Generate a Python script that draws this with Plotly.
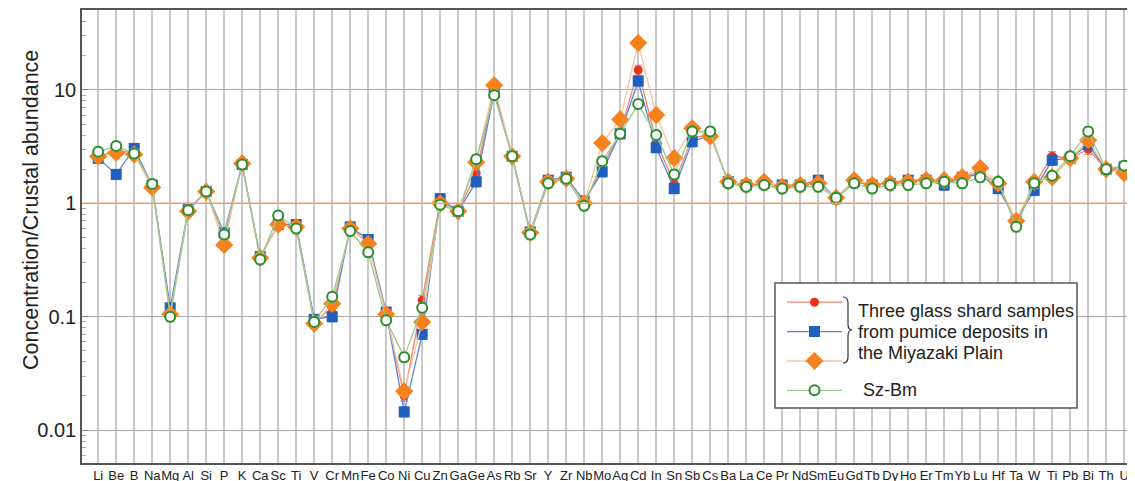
import plotly.graph_objects as go

elements = ["Li","Be","B","Na","Mg","Al","Si","P","K","Ca","Sc","Ti","V","Cr","Mn","Fe","Co","Ni","Cu","Zn",
            "Ga","Ge","As","Rb","Sr","Y","Zr","Nb","Mo","Ag","Cd","In","Sn","Sb","Cs","Ba","La","Ce","Pr","Nd",
            "Sm","Eu","Gd","Tb","Dy","Ho","Er","Tm","Yb","Lu","Hf","Ta","W","Ti","Pb","Bi","Th","U"]

sample_red = [2.6,2.9,2.8,1.45,0.11,0.87,1.27,0.5,2.2,0.33,0.65,0.63,0.09,0.12,0.6,0.45,0.105,0.02,0.14,1.05,
              0.85,1.85,10.5,2.6,0.55,1.55,1.65,1.0,2.1,4.2,15,3.5,1.5,3.8,4.0,1.55,1.45,1.5,1.4,1.45,
              1.5,1.12,1.6,1.45,1.5,1.55,1.6,1.55,1.7,1.9,1.45,0.7,1.45,2.6,2.5,3.0,2.0,1.95]
sample_blue = [2.5,1.8,3.05,1.45,0.12,0.88,1.27,0.55,2.2,0.34,0.65,0.65,0.095,0.1,0.62,0.48,0.11,0.0145,0.07,1.1,
               0.85,1.55,9.5,2.6,0.56,1.6,1.7,1.05,1.9,4.1,12,3.1,1.35,3.5,4.0,1.55,1.45,1.5,1.45,1.45,
               1.6,1.1,1.55,1.45,1.5,1.6,1.6,1.45,1.7,1.8,1.35,0.7,1.3,2.4,2.5,3.3,2.0,2.1]
sample_orange = [2.6,2.8,2.7,1.38,0.105,0.85,1.27,0.43,2.25,0.33,0.65,0.62,0.087,0.13,0.6,0.44,0.105,0.022,0.09,1.0,
                 0.85,2.3,11,2.6,0.55,1.55,1.65,1.0,3.4,5.5,26,6.0,2.5,4.6,3.9,1.55,1.45,1.55,1.4,1.45,
                 1.5,1.12,1.6,1.45,1.5,1.55,1.6,1.6,1.7,2.05,1.5,0.7,1.55,1.7,2.5,3.6,2.0,1.85]
sz_bm = [2.85,3.2,2.75,1.48,0.10,0.87,1.27,0.53,2.2,0.32,0.78,0.6,0.09,0.15,0.57,0.37,0.093,0.044,0.12,0.97,
         0.85,2.45,9.0,2.6,0.53,1.5,1.65,0.95,2.35,4.1,7.5,4.0,1.8,4.3,4.3,1.5,1.4,1.45,1.35,1.4,
         1.4,1.12,1.5,1.35,1.45,1.45,1.5,1.55,1.5,1.7,1.55,0.62,1.5,1.75,2.6,4.3,2.0,2.15]
err_pct = 10

OFF = 8  # page body margin
SW, SH = 1135, 481
W, H = SW - OFF, SH - OFF
# plot area in screenshot pixels
L, R, T, B = 82, 1135, 10, 463
def px(x): return (x - L) / (R - L)
def py(y): return (B - y) / (B - T)

xs = list(range(len(elements)))

fig = go.Figure()
series = [
    ("", sample_red, "#F2846E", dict(symbol="circle", size=9, color="#E5331F")),
    ("", sample_blue, "#5A86D0", dict(symbol="square", size=11, color="#1F5FBF")),
    ("", sample_orange, "#F9C49C", dict(symbol="diamond", size=14, color="#F5821F")),
    ("", sz_bm, "#9ACB8E", dict(symbol="circle", size=10, color="white", line=dict(color="#2E8B2E", width=2))),
]
for name, vals, lc, mk in series:
    fig.add_trace(go.Scatter(
        x=xs, y=vals, mode="lines+markers", name=name,
        line=dict(color=lc, width=1.3), marker=mk,
        error_y=dict(type="percent", value=err_pct, color=lc, thickness=1, width=4),
        showlegend=True,
    ))

fig.update_layout(
    width=W, height=H,
    margin=dict(l=L - OFF, r=SW - R, t=T - OFF, b=SH - B, autoexpand=False),
    paper_bgcolor="white", plot_bgcolor="white",
    font=dict(family="Liberation Sans, Arial", color="#222"),
    showlegend=True,
    legend=dict(x=px(782), y=py(282.5), xanchor="left", yanchor="top",
                bgcolor="rgba(0,0,0,0)", borderwidth=0, font=dict(size=20.3),
                itemwidth=55, tracegroupgap=0),
    xaxis=dict(range=[-0.9, 57.6], tickmode="array", tickvals=xs, ticktext=elements,
               showgrid=True, gridcolor="#C8C8C8", gridwidth=1.5, zeroline=False,
               showline=True, linecolor="#555", linewidth=1.5, mirror=True,
               ticks="", tickangle=0, automargin=False,
               tickfont=dict(size=13, color="#222")),
    yaxis=dict(type="log", range=[-2.29, 1.705], tickmode="array",
               tickvals=[0.01, 0.1, 1, 10], ticktext=["0.01", "0.1", "1", "10"],
               showgrid=True, gridcolor="#A8A8A8", gridwidth=1.3, zeroline=False,
               showline=True, linecolor="#555", linewidth=1.5, mirror=True,
               ticks="inside", ticklen=6, tickcolor="#888", automargin=False,
               minor=dict(ticks="inside", ticklen=4, tickcolor="#AAA", dtick="D1", showgrid=False),
               tickfont=dict(size=20, color="#222")),
)

fig.add_hline(y=1, line=dict(color="#F29A6A", width=1.5))

# legend box
fig.add_shape(type="rect", xref="paper", yref="paper",
              x0=px(775), x1=px(1077), y0=py(408), y1=py(283),
              line=dict(color="#555", width=1.5), fillcolor="white", layer="above")
# brace
brace = (f"M {px(843)},{py(297)} Q {px(848)},{py(297)} {px(848)},{py(303)} "
         f"L {px(848)},{py(324)} Q {px(848)},{py(330)} {px(852)},{py(330)} "
         f"Q {px(848)},{py(330)} {px(848)},{py(336)} L {px(848)},{py(357)} "
         f"Q {px(848)},{py(363)} {px(843)},{py(363)}")
fig.add_shape(type="path", xref="paper", yref="paper", path=brace,
              line=dict(color="#333", width=1.2), layer="above")

legend_lines = ["Three glass shard samples", "from pumice deposits in", "the Miyazaki Plain"]
for txt, yy in zip(legend_lines, [311, 332, 353]):
    fig.add_annotation(x=px(856), y=py(yy), xref="paper", yref="paper", text=txt,
                       showarrow=False, xanchor="left", yanchor="middle",
                       font=dict(size=18, color="#222"))
fig.add_annotation(x=px(861), y=py(390), xref="paper", yref="paper", text="Sz-Bm",
                   showarrow=False, xanchor="left", yanchor="middle",
                   font=dict(size=18, color="#222"))

fig.add_annotation(x=px(31), y=py(210), xref="paper", yref="paper",
                   text="Concentration/Crustal abundance", textangle=-90,
                   showarrow=False, xanchor="center", yanchor="middle",
                   font=dict(size=21.5, color="#222"))

fig.write_html("out.html")
